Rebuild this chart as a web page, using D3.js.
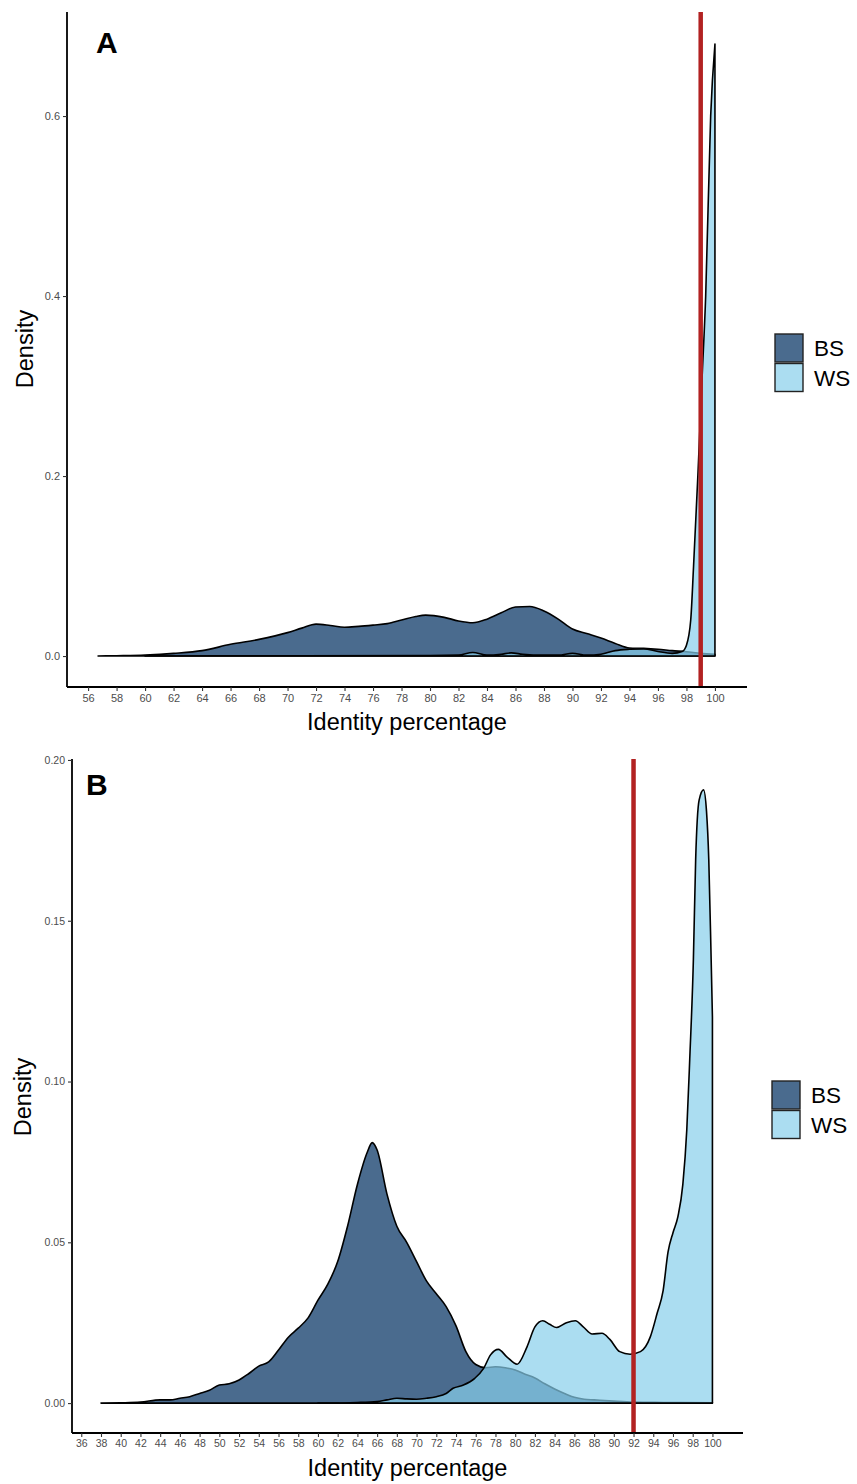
<!DOCTYPE html>
<html>
<head>
<meta charset="utf-8">
<script src="https://cdn.jsdelivr.net/npm/d3@7/dist/d3.min.js"></script>
<style>
  html, body { margin: 0; padding: 0; background: #fff; }
  svg { display: block; }
</style>
</head>
<body>
<svg id="chart" width="857" height="1484"></svg>
<script>
// ---------- DATA ----------
const seriesNames = ["BS", "WS"];

// Panel A
const aTicksX = d3.range(56, 101, 2);
const aTicksY = [0.0, 0.2, 0.4, 0.6];
const aThreshold = 99;
const aBSx = [56.7, 58, 60, 62, 64, 66, 68, 70, 71, 72, 73, 74, 75, 76, 77, 78, 79, 79.7, 81, 82, 83, 84, 85, 86, 87, 88, 89, 90, 91, 92, 93, 94, 95, 96, 97, 98, 99, 100];
const aBSy = [0, 0.0004, 0.0012, 0.003, 0.006, 0.013, 0.0185, 0.026, 0.031, 0.0355, 0.034, 0.032, 0.033, 0.0344, 0.036, 0.040, 0.044, 0.0455, 0.043, 0.039, 0.037, 0.041, 0.048, 0.0545, 0.055, 0.050, 0.041, 0.030, 0.025, 0.020, 0.014, 0.009, 0.0085, 0.0075, 0.006, 0.0048, 0.003, 0.002];
const aWSx = [60, 70, 80, 82, 83, 84, 85, 85.7, 86.5, 88, 89, 90, 91, 92, 93, 94, 95, 96, 97, 97.7, 98, 98.3, 98.5, 98.8, 99.1, 99.35, 99.7, 100];
const aWSy = [0, 0.0003, 0.0005, 0.001, 0.004, 0.001, 0.002, 0.0035, 0.002, 0.001, 0.001, 0.003, 0.001, 0.002, 0.006, 0.0075, 0.008, 0.005, 0.003, 0.005, 0.012, 0.04, 0.10, 0.20, 0.31, 0.40, 0.60, 0.68];

// Panel B
const bTicksX = d3.range(36, 101, 2);
const bTicksY = [0.00, 0.05, 0.10, 0.15, 0.20];
const bThreshold = 92;
const bBSx = [38, 40, 42, 44, 45, 46, 47, 48, 49, 50, 51, 52, 53, 54, 55, 56, 57, 58, 59, 60, 61, 62, 63, 64, 65, 65.5, 66, 67, 68, 69, 70, 71, 72, 73, 74, 75, 76, 77, 78, 79, 80, 81, 82, 83, 84, 85, 86, 87, 88, 90, 92, 95, 100];
const bBSy = [0, 0.0001, 0.0003, 0.001, 0.001, 0.0015, 0.002, 0.003, 0.004, 0.0056, 0.006, 0.0072, 0.0092, 0.0115, 0.0128, 0.0165, 0.0205, 0.0233, 0.0265, 0.032, 0.037, 0.044, 0.055, 0.068, 0.078, 0.081, 0.0787, 0.065, 0.055, 0.050, 0.044, 0.038, 0.034, 0.030, 0.024, 0.016, 0.012, 0.011, 0.0113, 0.011, 0.0103, 0.009, 0.0078, 0.006, 0.0044, 0.003, 0.0018, 0.0012, 0.001, 0.0006, 0.0003, 0.0002, 0.0001];
const bWSx = [60, 64, 66, 67, 68, 69, 70, 71, 72, 73, 73.7, 74.75, 75.9, 76.8, 77.5, 78.3, 79.15, 80.2, 81.2, 82.0, 82.8, 83.5, 84.2, 85.2, 86.1, 86.9, 87.8, 88.8, 89.6, 90.6, 91.65, 92.7, 93.7, 94.4, 95, 95.5, 96, 96.5, 97, 97.4, 97.7, 98.07, 98.3, 98.65, 99.1, 99.4, 99.63, 99.87, 100];
const bWSy = [0, 0.0002, 0.0005, 0.001, 0.0015, 0.0013, 0.0012, 0.0015, 0.002, 0.003, 0.0046, 0.0056, 0.0077, 0.0108, 0.015, 0.0167, 0.0144, 0.0121, 0.0175, 0.0237, 0.0256, 0.0245, 0.0235, 0.025, 0.0256, 0.0237, 0.0215, 0.0217, 0.0198, 0.016, 0.0152, 0.016, 0.0206, 0.028, 0.035, 0.047, 0.053, 0.058, 0.068, 0.085, 0.107, 0.138, 0.169, 0.1875, 0.1907, 0.184, 0.169, 0.138, 0.12];

// ---------- STYLE ----------
const colBS = "#4a6b8e";
const colWS = "#87ceeb";
const wsOpacity = 0.7;
const redCol = "#b22222";
const tickCol = "#4d4d4d";
const font = "'Liberation Sans', Arial, sans-serif";

const svg = d3.select("#chart");
svg.append("rect").attr("width", 857).attr("height", 1484).attr("fill", "#fff");

function zip(xs, ys) { return xs.map((x, i) => ({x, y: ys[i]})); }

function panel(cfg) {
  const g = svg.append("g");
  const x = d3.scaleLinear().domain(cfg.xDomain).range([cfg.left, cfg.right]);
  const y = d3.scaleLinear().domain(cfg.yDomain).range([cfg.bottom, cfg.top]);

  const area = d3.area()
    .x(d => x(d.x)).y0(y(0)).y1(d => y(d.y))
    .curve(d3.curveMonotoneX);

  // BS
  g.append("path").datum(zip(cfg.bsX, cfg.bsY))
    .attr("d", area).attr("fill", colBS)
    .attr("stroke", "#000").attr("stroke-width", 1.6).attr("stroke-linejoin", "round");
  // WS
  g.append("path").datum(zip(cfg.wsX, cfg.wsY))
    .attr("d", area).attr("fill", colWS).attr("fill-opacity", wsOpacity)
    .attr("stroke", "#000").attr("stroke-width", 1.6).attr("stroke-linejoin", "round");

  // threshold line
  g.append("line")
    .attr("x1", x(cfg.threshold)).attr("x2", x(cfg.threshold))
    .attr("y1", cfg.top).attr("y2", cfg.bottom)
    .attr("stroke", redCol).attr("stroke-width", 4.5);

  // axes
  const xAxis = d3.axisBottom(x).tickValues(cfg.ticksX).tickSize(4).tickPadding(3)
    .tickFormat(d3.format("d"));
  const gx = g.append("g").attr("transform", `translate(0,${cfg.bottom})`).call(xAxis);
  gx.select(".domain").attr("d", `M${cfg.left},0H${cfg.right}`).attr("stroke", "#000").attr("stroke-width", 1.8);
  gx.selectAll(".tick line").attr("stroke", "#333").attr("stroke-width", 1.1);
  gx.selectAll(".tick text").attr("fill", tickCol).attr("font-family", font).attr("font-size", cfg.tickFont);

  const yAxis = d3.axisLeft(y).tickValues(cfg.ticksY).tickSize(4).tickPadding(3)
    .tickFormat(d3.format(cfg.yFmt));
  const gy = g.append("g").attr("transform", `translate(${cfg.left},0)`).call(yAxis);
  gy.select(".domain").attr("d", `M0,${cfg.top}V${cfg.bottom}`).attr("stroke", "#000").attr("stroke-width", 1.8);
  gy.selectAll(".tick line").attr("stroke", "#333").attr("stroke-width", 1.1);
  gy.selectAll(".tick text").attr("fill", tickCol).attr("font-family", font).attr("font-size", cfg.tickFont);

  // titles
  g.append("text").attr("x", (cfg.left + cfg.right) / 2 + cfg.xTitleDx).attr("y", cfg.bottom + 43)
    .attr("text-anchor", "middle").attr("font-family", font).attr("font-size", 23.5)
    .attr("fill", "#000").text("Identity percentage");
  g.append("text")
    .attr("transform", `translate(${cfg.yTitleX},${cfg.yTitleY}) rotate(-90)`)
    .attr("text-anchor", "middle").attr("font-family", font).attr("font-size", 23.5)
    .attr("fill", "#000").text("Density");

  // panel letter
  g.append("text").attr("x", cfg.letterX).attr("y", cfg.letterY)
    .attr("font-family", font).attr("font-weight", "bold").attr("font-size", 30)
    .attr("fill", "#000").text(cfg.letter);

  // legend
  const lg = g.append("g").attr("transform", `translate(${cfg.legX},${cfg.legY})`);
  seriesNames.forEach((name, i) => {
    lg.append("rect").attr("x", 0).attr("y", i * 29.5).attr("width", 28).attr("height", 28)
      .attr("fill", name === "BS" ? colBS : colWS)
      .attr("fill-opacity", name === "BS" ? 1 : wsOpacity)
      .attr("stroke", "#222").attr("stroke-width", 1.4);
    lg.append("text").attr("x", 39).attr("y", i * 29.5 + 14).attr("dy", "0.36em")
      .attr("font-family", font).attr("font-size", 22.5).attr("fill", "#000").text(name);
  });
}

panel({
  letter: "A", letterX: 96, letterY: 53,
  left: 67, right: 747, top: 12, bottom: 687,
  xDomain: [54.52, 102.25], yDomain: [-0.0344, 0.7156],
  ticksX: aTicksX, ticksY: aTicksY, yFmt: ".1f", tickFont: 11,
  threshold: aThreshold,
  bsX: aBSx, bsY: aBSy, wsX: aWSx, wsY: aWSy,
  xTitleDx: 0, yTitleX: 33, yTitleY: 349,
  legX: 775, legY: 334
});

panel({
  letter: "B", letterX: 86, letterY: 795,
  left: 72, right: 743, top: 759, bottom: 1433,
  xDomain: [35.06, 103.1], yDomain: [-0.0093, 0.2003],
  ticksX: bTicksX, ticksY: bTicksY, yFmt: ".2f", tickFont: 10.5,
  threshold: bThreshold,
  bsX: bBSx, bsY: bBSy, wsX: bWSx, wsY: bWSy,
  xTitleDx: 0, yTitleX: 31, yTitleY: 1097,
  legX: 772, legY: 1081
});
</script>
</body>
</html>
